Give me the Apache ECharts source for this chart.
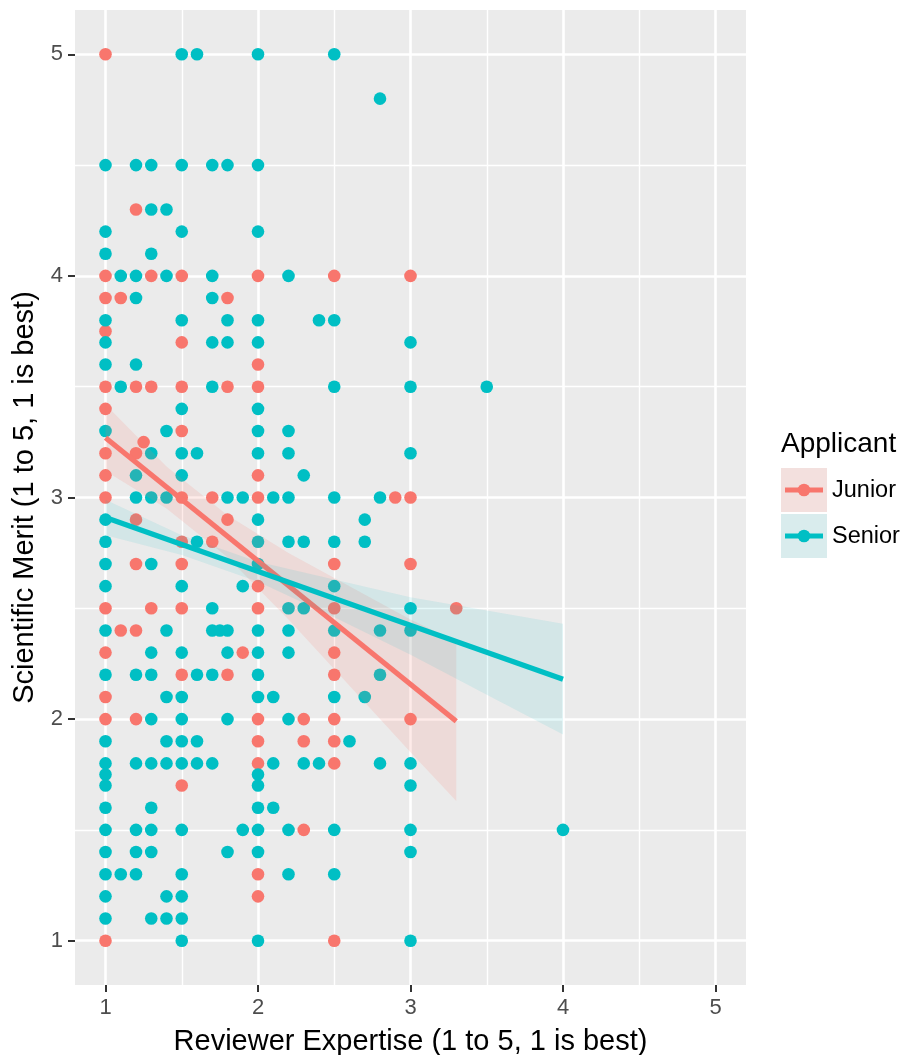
<!DOCTYPE html>
<html>
<head>
<meta charset="utf-8">
<script src="https://cdn.jsdelivr.net/npm/echarts@6/dist/echarts.min.js"></script>
<style>
  html, body { margin: 0; padding: 0; background: #ffffff; }
  #chart { width: 911px; height: 1055px; }
</style>
</head>
<body>
<div id="chart"></div>
<script>
// Reviewer expertise (x) vs. scientific merit (y), one point per review
const juniorPoints = [
  [1, 5], [1, 4], [1, 3.9], [1, 3.75], [1, 3.5], [1, 3.4], [1, 3.2], [1, 3.1], [1, 3], [1, 2.5], [1, 2.3], [1, 2.1], [1, 2], [1, 1],
  [1.1, 3.9], [1.1, 2.4],
  [1.2, 4.3], [1.2, 3.5], [1.2, 3.2], [1.2, 2.9], [1.2, 2.7], [1.2, 2.4], [1.2, 2],
  [1.25, 3.25],
  [1.3, 4], [1.3, 3.5], [1.3, 2.5],
  [1.5, 4], [1.5, 3.7], [1.5, 3.5], [1.5, 3.3], [1.5, 3], [1.5, 2.8], [1.5, 2.7], [1.5, 2.5], [1.5, 2.2], [1.5, 1.7],
  [1.7, 3], [1.7, 2.8],
  [1.8, 3.9], [1.8, 3.5], [1.8, 2.9], [1.8, 2.2],
  [1.9, 2.3],
  [2, 4], [2, 3.6], [2, 3.5], [2, 3.1], [2, 3], [2, 2.6], [2, 2.5], [2, 2], [2, 1.9], [2, 1.8], [2, 1.3], [2, 1.2],
  [2.3, 2], [2.3, 1.9], [2.3, 1.5],
  [2.5, 4], [2.5, 2.7], [2.5, 2.5], [2.5, 2.3], [2.5, 2.2], [2.5, 2], [2.5, 1.9], [2.5, 1.8], [2.5, 1],
  [2.9, 3],
  [3, 4], [3, 3], [3, 2.7], [3, 2],
  [3.3, 2.5]
];

const seniorPoints = [
  [1, 4.5], [1, 4.2], [1, 4.1], [1, 3.8], [1, 3.7], [1, 3.6], [1, 3.3], [1, 2.9], [1, 2.8], [1, 2.7], [1, 2.6], [1, 2.4], [1, 2.2],
  [1, 1.9], [1, 1.8], [1, 1.75], [1, 1.7], [1, 1.6], [1, 1.5], [1, 1.4], [1, 1.3], [1, 1.2], [1, 1.1],
  [1.1, 4], [1.1, 3.5], [1.1, 1.3],
  [1.2, 4.5], [1.2, 4], [1.2, 3.9], [1.2, 3.6], [1.2, 3.1], [1.2, 3], [1.2, 2.2], [1.2, 1.8], [1.2, 1.5], [1.2, 1.4], [1.2, 1.3],
  [1.3, 4.5], [1.3, 4.3], [1.3, 4.1], [1.3, 3.2], [1.3, 3], [1.3, 2.7], [1.3, 2.3], [1.3, 2.2], [1.3, 2], [1.3, 1.8], [1.3, 1.6],
  [1.3, 1.5], [1.3, 1.4], [1.3, 1.1],
  [1.4, 4.3], [1.4, 4], [1.4, 3.3], [1.4, 3], [1.4, 2.4], [1.4, 2.1], [1.4, 1.9], [1.4, 1.8], [1.4, 1.2], [1.4, 1.1],
  [1.5, 5], [1.5, 4.5], [1.5, 4.2], [1.5, 3.8], [1.5, 3.4], [1.5, 3.2], [1.5, 3.1], [1.5, 2.6], [1.5, 2.3], [1.5, 2.1], [1.5, 2],
  [1.5, 1.9], [1.5, 1.8], [1.5, 1.5], [1.5, 1.3], [1.5, 1.2], [1.5, 1.1], [1.5, 1],
  [1.6, 5], [1.6, 3.2], [1.6, 2.8], [1.6, 2.2], [1.6, 1.9], [1.6, 1.8],
  [1.7, 4.5], [1.7, 4], [1.7, 3.9], [1.7, 3.7], [1.7, 3.5], [1.7, 2.5], [1.7, 2.4], [1.7, 2.2], [1.7, 1.8],
  [1.75, 2.4],
  [1.8, 4.5], [1.8, 3.8], [1.8, 3.7], [1.8, 3], [1.8, 2.4], [1.8, 2.3], [1.8, 2], [1.8, 1.4],
  [1.9, 3], [1.9, 2.6], [1.9, 1.5],
  [2, 5], [2, 4.5], [2, 4.2], [2, 3.8], [2, 3.7], [2, 3.4], [2, 3.3], [2, 3.2], [2, 2.9], [2, 2.8], [2, 2.7], [2, 2.4], [2, 2.3],
  [2, 2.2], [2, 2.1], [2, 1.75], [2, 1.7], [2, 1.6], [2, 1.5], [2, 1.4], [2, 1],
  [2.1, 3], [2.1, 2.1], [2.1, 1.8], [2.1, 1.6],
  [2.2, 4], [2.2, 3.3], [2.2, 3.2], [2.2, 3], [2.2, 2.8], [2.2, 2.5], [2.2, 2.4], [2.2, 2.3], [2.2, 2], [2.2, 1.5], [2.2, 1.3],
  [2.3, 3.1], [2.3, 2.8], [2.3, 2.5], [2.3, 1.8],
  [2.4, 3.8], [2.4, 1.8],
  [2.5, 5], [2.5, 3.8], [2.5, 3.5], [2.5, 3], [2.5, 2.8], [2.5, 2.6], [2.5, 2.4], [2.5, 2.1], [2.5, 1.5], [2.5, 1.3],
  [2.6, 1.9],
  [2.7, 2.9], [2.7, 2.8], [2.7, 2.1],
  [2.8, 4.8], [2.8, 3], [2.8, 2.4], [2.8, 2.2], [2.8, 1.8],
  [3, 3.7], [3, 3.5], [3, 3.2], [3, 2.5], [3, 2.4], [3, 1.8], [3, 1.7], [3, 1.5], [3, 1.4], [3, 1],
  [3.5, 3.5],
  [4, 1.5]
];

// Linear fits (endpoints) and their confidence bands
const juniorFit = [[1, 3.27], [3.3, 1.99]];
const seniorFit = [[1, 2.91], [4, 2.18]];

const juniorBandX = [1, 1.4, 1.8, 2.2, 2.6, 3.0, 3.3];
const juniorUpper = [3.42, 3.14, 2.92, 2.75, 2.60, 2.45, 2.35];
const juniorLower = [3.12, 2.95, 2.73, 2.45, 2.15, 1.85, 1.63];

const seniorBandX = [1, 1.5, 2, 2.5, 3, 3.5, 4];
const seniorUpper = [2.99, 2.83, 2.71, 2.63, 2.55, 2.49, 2.43];
const seniorLower = [2.83, 2.74, 2.62, 2.46, 2.29, 2.11, 1.93];

// Axis breaks
const majorBreaks = [1, 2, 3, 4, 5];
const minorBreaks = [1.5, 2.5, 3.5, 4.5];
const groups = ['Junior', 'Senior'];

const JUNIOR = '#F8766D';
const SENIOR = '#00BFC4';
const JUNIOR_FILL = 'rgba(248,118,109,0.15)';
const SENIOR_FILL = 'rgba(0,191,196,0.10)';
const FONT = '"Liberation Sans", Arial, Helvetica, sans-serif';

const chart = echarts.init(document.getElementById('chart'), null, { renderer: 'canvas' });

function gridLines() {
  const items = [];
  majorBreaks.forEach(v => {
    items.push({ xAxis: v, lineStyle: { width: 2.6 } });
    items.push({ yAxis: v, lineStyle: { width: 2.6 } });
  });
  minorBreaks.forEach(v => {
    items.push({ xAxis: v, lineStyle: { width: 1.4 } });
    items.push({ yAxis: v, lineStyle: { width: 1.4 } });
  });
  return items;
}

function band(name, xs, upper, lower, fill, z) {
  return {
    name: name,
    type: 'custom',
    z: z,
    silent: true,
    clip: true,
    data: [[xs[0], upper[0]]],
    renderItem: function (params, api) {
      const top = xs.map((x, i) => api.coord([x, upper[i]]));
      const bottom = xs.map((x, i) => api.coord([x, lower[i]])).reverse();
      return {
        type: 'polygon',
        shape: { points: top.concat(bottom) },
        style: { fill: fill, stroke: null }
      };
    }
  };
}

function fitLine(name, data, color, z) {
  return {
    name: name,
    type: 'line',
    z: z,
    data: data,
    symbol: 'none',
    silent: true,
    lineStyle: { color: color, width: 5.2, cap: 'butt' }
  };
}

function axisCommon() {
  return {
    type: 'value',
    min: 0.8,
    max: 5.2,
    axisLine: { show: false },
    axisTick: { show: true, customValues: majorBreaks, length: 7, lineStyle: { color: '#333333', width: 2 } },
    axisLabel: { customValues: majorBreaks, fontSize: 22, color: '#4D4D4D', fontFamily: FONT, margin: 12 },
    splitLine: { show: false },
    nameTextStyle: { fontSize: 29, color: '#000000', fontFamily: FONT }
  };
}

const xAxis = Object.assign(axisCommon(), {
  name: 'Reviewer Expertise (1 to 5, 1 is best)',
  nameLocation: 'middle',
  nameGap: 42
});
const yAxis = Object.assign(axisCommon(), {
  name: 'Scientific Merit (1 to 5, 1 is best)',
  nameLocation: 'middle',
  nameRotate: 90,
  nameGap: 32
});

// Legend drawn as ggplot-style keys: tinted box, line, dot
const keyLeft = 781, keyTop = 468, keyW = 46, keyH = 44;
const legendGraphics = [
  { type: 'text', left: keyLeft, top: 430, style: { text: 'Applicant', fill: '#000000', font: '28px ' + FONT } }
];
[[groups[0], JUNIOR, JUNIOR_FILL], [groups[1], SENIOR, SENIOR_FILL]].forEach((g, i) => {
  const y0 = keyTop + i * (keyH + 2);
  const cy = y0 + keyH / 2;
  legendGraphics.push(
    { type: 'rect', shape: { x: keyLeft, y: y0, width: keyW, height: keyH }, style: { fill: '#F2F2F2' } },
    { type: 'rect', shape: { x: keyLeft, y: y0, width: keyW, height: keyH }, style: { fill: g[2] } },
    { type: 'line', shape: { x1: keyLeft + 4, y1: cy, x2: keyLeft + keyW - 4, y2: cy }, style: { stroke: g[1], lineWidth: 5.2 } },
    { type: 'circle', shape: { cx: keyLeft + keyW / 2, cy: cy, r: 6.3 }, style: { fill: g[1] } },
    { type: 'text', x: keyLeft + keyW + 5, y: cy + 1, style: { text: g[0], font: '23.5px ' + FONT, fill: '#000000', verticalAlign: 'middle' } }
  );
});

const option = {
  animation: false,
  backgroundColor: '#ffffff',
  grid: {
    left: 75, right: 165, top: 10, bottom: 70,
    outerBoundsMode: 'none',
    containLabel: false,
    show: true, backgroundColor: '#EBEBEB', borderWidth: 0
  },
  xAxis: xAxis,
  yAxis: yAxis,
  series: [
    {
      name: 'grid',
      type: 'line',
      z: 1,
      data: [],
      silent: true,
      markLine: {
        z: 1,
        silent: true,
        symbol: ['none', 'none'],
        label: { show: false },
        animation: false,
        lineStyle: { color: '#FFFFFF', type: 'solid' },
        emphasis: { disabled: true },
        data: gridLines()
      }
    },
    {
      name: groups[0],
      type: 'scatter',
      z: 2,
      data: juniorPoints,
      symbol: 'circle',
      symbolSize: 12.6,
      itemStyle: { color: JUNIOR, opacity: 1 }
    },
    {
      name: groups[1],
      type: 'scatter',
      z: 2,
      data: seniorPoints,
      symbol: 'circle',
      symbolSize: 12.6,
      itemStyle: { color: SENIOR, opacity: 1 }
    },
    band('Junior band', juniorBandX, juniorUpper, juniorLower, JUNIOR_FILL, 3),
    fitLine('Junior fit', juniorFit, JUNIOR, 4),
    band('Senior band', seniorBandX, seniorUpper, seniorLower, SENIOR_FILL, 5),
    fitLine('Senior fit', seniorFit, SENIOR, 6)
  ],
  graphic: legendGraphics
};

chart.setOption(option);
</script>
</body>
</html>
